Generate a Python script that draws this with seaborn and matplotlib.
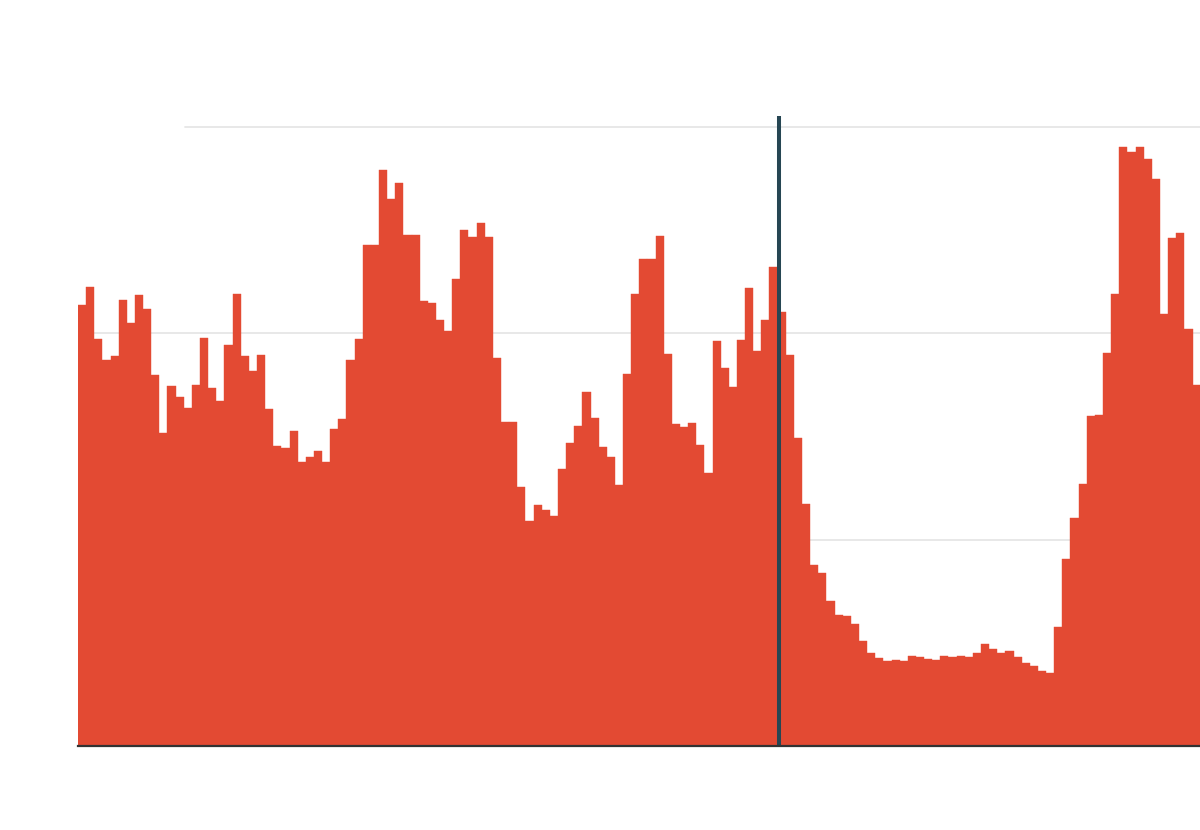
import matplotlib
matplotlib.use("Agg")
import matplotlib.pyplot as plt
import seaborn as sns
import numpy as np
import pandas as pd

# ---- data ----
values = [
    21.39, 22.23, 19.74, 18.71, 18.90, 21.62, 20.52, 21.87, 21.19, 18.00,
    15.18, 17.45, 16.90, 16.38, 17.51, 19.77, 17.35, 16.71, 19.42, 21.91,
    18.90, 18.19, 18.94, 16.32, 14.54, 14.42, 15.28, 13.76, 14.02, 14.31,
    13.74, 15.35, 15.83, 18.71, 19.74, 24.27, 24.30, 27.92, 26.53, 27.30,
    24.75, 24.78, 21.58, 21.46, 20.65, 20.10, 22.62, 25.01, 24.65, 25.33,
    24.65, 18.80, 15.68, 15.70, 12.54, 10.89, 11.67, 11.44, 11.15, 13.44,
    14.70, 15.51, 17.16, 15.90, 14.48, 13.99, 12.66, 18.03, 21.91, 23.59,
    23.59, 24.72, 19.00, 15.61, 15.48, 15.67, 14.57, 13.22, 19.61, 18.32,
    17.38, 19.68, 22.20, 19.16, 20.65, 23.20, 21.03, 18.93, 14.93, 11.73,
    8.79, 8.37, 7.01, 6.33, 6.30, 5.91, 5.07, 4.52, 4.27, 4.13,
    4.17, 4.13, 4.36, 4.30, 4.20, 4.17, 4.36, 4.33, 4.36, 4.30,
    4.49, 4.94, 4.72, 4.52, 4.62, 4.30, 4.01, 3.88, 3.65, 3.52,
    5.75, 9.05, 11.05, 12.70, 16.00, 16.04, 19.05, 21.92, 29.01, 28.80,
    29.05, 28.43, 27.46, 20.95, 24.62, 24.86, 20.19, 17.50,
]
periods = list(range(len(values)))
grid_levels = [10, 20, 30]
marker_position = 85.72

df = pd.DataFrame({"period": periods, "value": values})

sns.set_style("white")
fig = plt.figure(figsize=(12, 8.3), dpi=100)
ax = fig.add_axes([78 / 1200, 84 / 830, 1122 / 1200, 630 / 830])

# gridlines (behind bars)
for g in grid_levels:
    xmin = 0.0954 if g == grid_levels[-1] else 0.0
    ax.axhline(g, xmin=xmin, xmax=1, color="#e6e6e6", linewidth=1.3, zorder=0)

sns.barplot(data=df, x="period", y="value", color="#e34a33", saturation=1,
            width=1.0, edgecolor="#e34a33", linewidth=0.3, ax=ax,
            zorder=2)

ax.axvline(marker_position, color="#264653", linewidth=2.9, zorder=5)

ax.set_xlim(-0.5, 137.42)
ax.set_ylim(0, 30.53)
ax.set_xticks([])
ax.set_yticks([])
ax.set_xlabel("")
ax.set_ylabel("")
for s in ["top", "right", "left"]:
    ax.spines[s].set_visible(False)
ax.spines["bottom"].set_color("#333333")
ax.spines["bottom"].set_linewidth(1.6)
ax.spines["bottom"].set_zorder(6)
ax.patch.set_alpha(0)

fig.savefig("out.png", dpi=100, facecolor="white")
